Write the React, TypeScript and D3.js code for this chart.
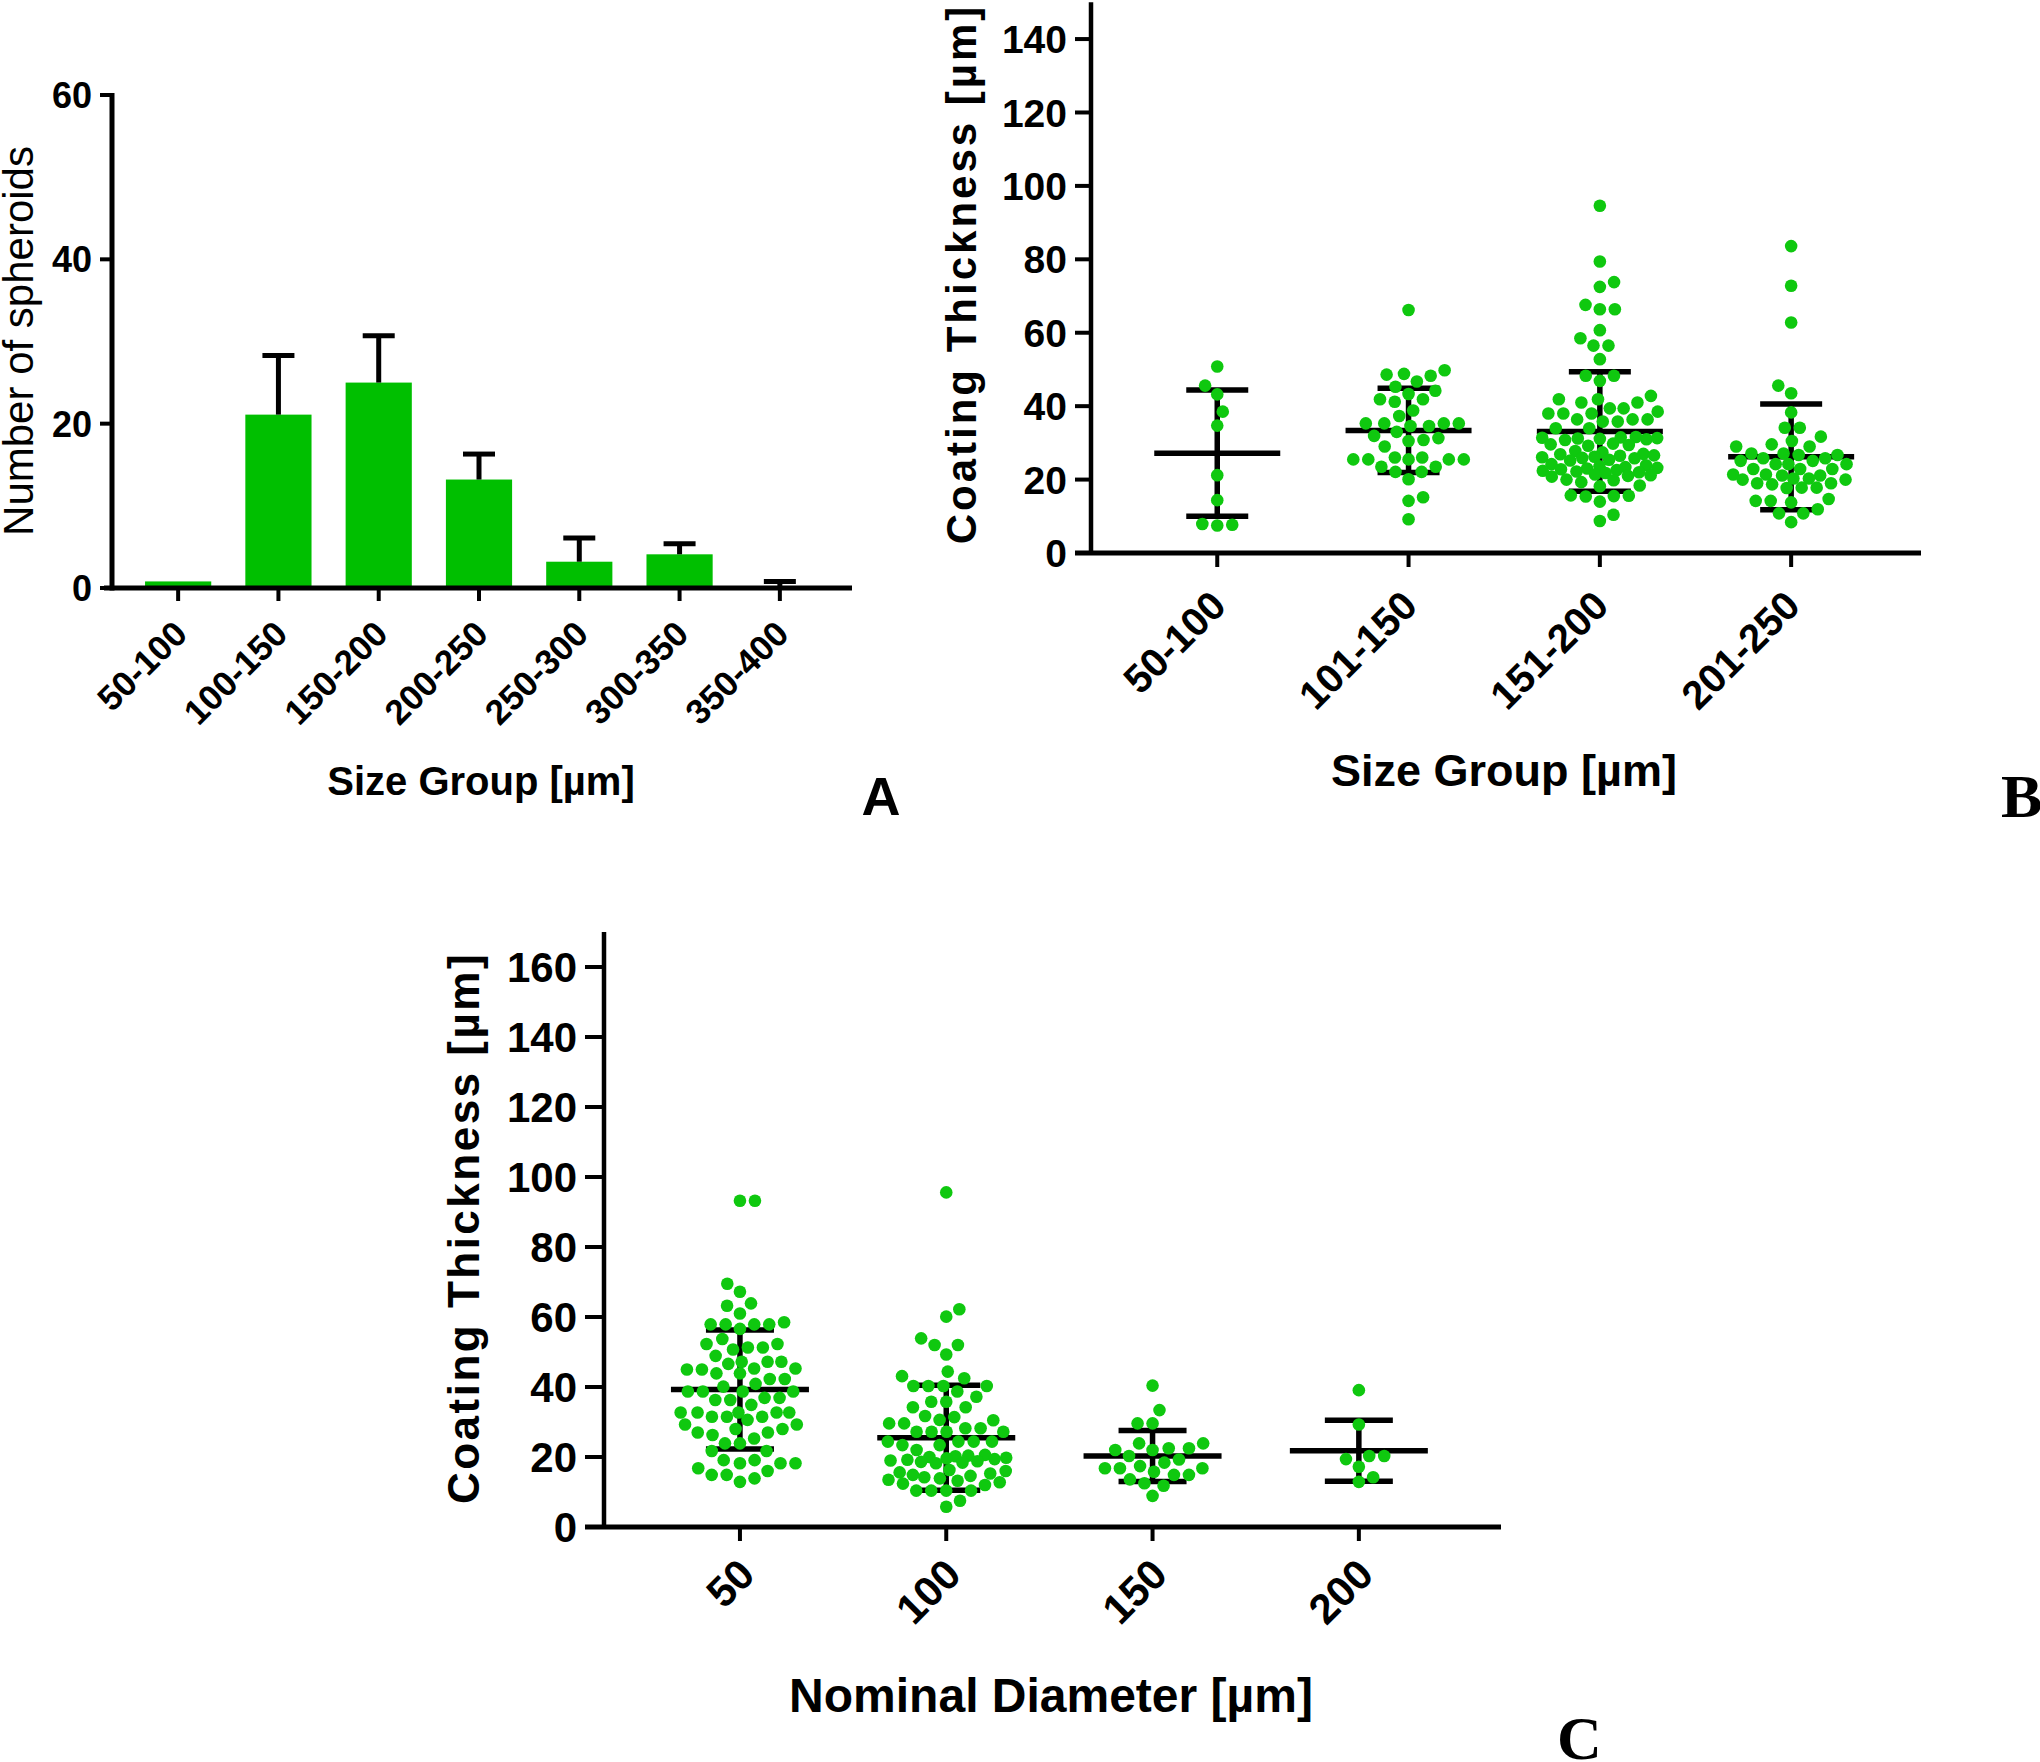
import React from 'react';
import * as d3 from 'd3';

// ---------- Panel A data ----------
const sizeGroupsA = ['50-100', '100-150', '150-200', '200-250', '250-300', '300-350', '350-400'];
const spheroidCounts = [0.8, 21.1, 25.0, 13.2, 3.2, 4.1, 0];
const spheroidSD = [0, 7.2, 5.7, 3.1, 2.9, 1.3, 0.8];
const yTicksA = [0, 20, 40, 60];

// ---------- Panel B data ----------
const sizeGroupsB = ['50-100', '101-150', '151-200', '201-250'];
const thicknessB1 = [50.8, 45.6, 43.2, 38.5, 34.7, 21.2, 14.4, 7.9, 7.5, 7.7];
const thicknessB2 = [66.2, 49.8, 48.8, 48.6, 48.3, 46.7, 45.3, 44.2, 43.3, 41.9, 41.9, 41.2, 38.8, 37.3, 35.3, 35.3, 35.3, 35.3, 34.6, 34.6, 33.0, 31.9, 31.3, 30.8, 30.5, 29.0, 26.0, 26.0, 25.5, 25.5, 25.5, 25.5, 25.5, 23.5, 23.5, 22.1, 22.1, 20.1, 15.2, 14.2, 9.2];
const thicknessB3 = [94.6, 79.4, 73.8, 72.5, 67.6, 66.4, 66.4, 60.7, 58.5, 56.5, 56.5, 52.8, 48.3, 48.3, 46.9,
  42.8, 41.9, 41.9, 41.0, 41.0, 39.4, 39.4, 38.5, 38.0, 38.0, 38.0, 36.4, 36.4, 36.4, 35.8, 35.8, 34.0, 34.0,
  31.6, 31.4, 31.2, 31.0, 30.8, 31.1, 31.3, 31.5, 29.8, 29.4, 29.2, 29.6, 27.8, 27.4,
  27.0, 26.9, 26.6, 26.5, 26.2, 26.1, 25.9, 25.8, 25.4, 25.2, 24.2, 23.9,
  23.6, 23.4, 23.2, 23.0, 22.8, 22.6, 22.4, 22.2, 22.0, 21.8, 21.4, 21.2, 21.0, 20.8,
  20.0, 19.8, 19.3, 18.4, 18.2, 15.7, 15.5, 15.4, 15.6, 14.0, 10.4, 8.7];
const thicknessB4 = [83.6, 72.8, 62.8, 45.6, 43.5, 38.3, 34.1, 34.1, 31.7, 30.5, 29.6, 29.0, 29.0, 27.1, 27.1, 26.7, 26.7, 25.8, 25.8, 25.1, 25.1, 24.2, 24.2, 24.2, 22.9, 22.9, 22.9, 21.4, 21.4, 21.1, 21.1, 20.3, 20.3, 20.0, 20.0, 19.0, 19.0, 18.7, 17.8, 17.8, 17.7, 14.7, 14.2, 14.2, 13.8, 11.9, 10.8, 10.8, 8.4];
const meanB = [27.2, 33.4, 33.1, 26.2];
const sdB = [17.2, 11.5, 16.3, 14.4];
const yTicksB = [0, 20, 40, 60, 80, 100, 120, 140];

// ---------- Panel C data ----------
const diametersC = ['50', '100', '150', '200'];
const thicknessC1 = [93.2, 93.2, 69.5, 67.2, 63.9, 63.2, 61.0, 58.5, 57.9, 57.9, 57.9, 57.9, 56.6, 53.7, 52.3, 52.3, 51.3, 51.3, 50.7, 48.9, 47.2, 47.2, 47.2, 46.6, 45.3, 45.3, 45.0, 45.0, 43.9, 43.9, 42.3, 42.3, 40.9, 40.1, 38.7, 38.7, 38.7, 38.7, 36.9, 36.9, 36.3, 36.3, 34.9, 32.7, 32.7, 32.7, 32.7, 32.7, 31.5, 31.5, 31.5, 30.6, 29.3, 29.3, 28.0, 28.0, 27.0, 27.0, 26.3, 25.3, 23.9, 23.9, 21.7, 21.7, 19.1, 19.1, 18.2, 18.2, 18.2, 16.8, 16.0, 14.9, 14.9, 13.9, 12.9];
const thicknessC2 = [95.6, 62.2, 60.1, 53.9, 52.0, 52.0, 49.3, 44.4, 43.1, 42.5, 40.3, 40.3, 40.3, 40.3, 38.7, 37.2, 35.8, 35.8, 34.2, 34.2, 31.7, 31.4, 30.6, 30.5, 29.6, 29.6, 28.2, 28.2, 27.2, 27.2, 27.2, 27.2, 24.4, 24.4, 24.4, 24.4, 23.4, 23.4, 22.0,
  20.6, 20.4, 20.2, 20.0, 19.8, 19.6, 19.4, 19.2, 19.0, 18.8, 18.6, 18.4, 18.2,
  16.3, 16.0, 15.6, 15.3, 14.9, 14.6, 14.2, 13.9, 13.5, 13.2, 12.8, 12.4, 12.0,
  10.4, 10.4, 10.4, 10.4, 7.5, 5.8];
const thicknessC3 = [40.4, 33.4, 29.6, 29.6, 23.9, 23.9, 22.5, 22.5, 22.0, 22.0, 20.3, 19.3, 18.4, 17.4, 16.8, 16.8, 16.8, 15.8, 14.9, 14.9, 13.6, 12.5, 11.8, 8.9];
const thicknessC4 = [39.1, 29.3, 20.3, 20.3, 19.4, 17.2, 14.2, 12.9];
const meanC = [39.3, 25.5, 20.3, 21.8];
const sdC = [17.0, 15.0, 7.3, 8.7];
const yTicksC = [0, 20, 40, 60, 80, 100, 120, 140, 160];

const groupsB = [thicknessB1, thicknessB2, thicknessB3, thicknessB4];
const groupsC = [thicknessC1, thicknessC2, thicknessC3, thicknessC4];

const BAR_GREEN = '#00bf00';
const DOT_GREEN = '#0fc80f';
const SANS = '"Liberation Sans", Arial, Helvetica, sans-serif';
const SERIF = '"Liberation Serif", "Times New Roman", serif';

// Beeswarm layout: values placed bottom-up, each at the free offset closest to the center.
function swarm(values: number[], yPix: (v: number) => number, D: number, maxHalf: number) {
  const order = values.map((v, i) => ({ v, i, py: yPix(v) })).sort((a, b) => b.py - a.py);
  const placed: { x: number; y: number }[] = [];
  const out: { x: number; y: number }[] = new Array(values.length);
  let lastSide = -1;
  for (const p of order) {
    let d = D;
    let best = 0;
    for (;;) {
      const cands = [0];
      for (const q of placed) {
        const dy = Math.abs(q.y - p.py);
        if (dy < d) {
          const dx = Math.sqrt(d * d - dy * dy);
          cands.push(q.x + dx, q.x - dx);
        }
      }
      const valid = cands.filter((c) => placed.every((q) => (q.x - c) ** 2 + (q.y - p.py) ** 2 >= d * d - 1e-3));
      valid.sort((a, b) => {
        const da = Math.abs(a) - Math.abs(b);
        if (Math.abs(da) > 1e-6) return da;
        return (Math.sign(b) === -lastSide ? 1 : 0) - (Math.sign(a) === -lastSide ? 1 : 0);
      });
      if (valid.length && Math.abs(valid[0]) <= maxHalf) {
        best = valid[0];
        break;
      }
      d *= 0.92;
      if (d < 2) { best = 0; break; }
    }
    if (Math.abs(best) > 1e-6) lastSide = Math.sign(best);
    placed.push({ x: best, y: p.py });
    out[p.i] = { x: best, y: p.py };
  }
  return out;
}

function PanelA() {
  const x = d3.scaleBand().domain(sizeGroupsA).range([128, 830]).paddingInner(0.34).paddingOuter(0.17);
  const y = d3.scaleLinear().domain([0, 60]).range([588, 95]);
  const bw = x.bandwidth();
  return (
    <g>
      {sizeGroupsA.map((g, i) => {
        const cx = (x(g) as number) + bw / 2;
        const v = spheroidCounts[i];
        const sd = spheroidSD[i];
        return (
          <g key={g}>
            {v > 0 && <rect x={x(g)} y={y(v)} width={bw} height={y(0) - y(v)} fill={BAR_GREEN} />}
            {sd > 0 && (
              <g stroke="#000" strokeWidth={5}>
                <line x1={cx} x2={cx} y1={y(v)} y2={y(v + sd)} />
                <line x1={cx - 16} x2={cx + 16} y1={y(v + sd)} y2={y(v + sd)} />
              </g>
            )}
            <line x1={cx} x2={cx} y1={y(0)} y2={y(0) + 13} stroke="#000" strokeWidth={4} />
            <text transform={`translate(${cx + 11},${y(0) + 48}) rotate(-45)`} textAnchor="end"
              fontFamily={SANS} fontWeight="bold" fontSize={35} fill="#000">{g}</text>
          </g>
        );
      })}
      <line x1={112} x2={112} y1={y(60) - 2} y2={y(0) + 2.5} stroke="#000" strokeWidth={5} />
      <line x1={104} x2={852} y1={y(0)} y2={y(0)} stroke="#000" strokeWidth={5} />
      {yTicksA.map((t) => (
        <g key={t}>
          <line x1={100} x2={112} y1={y(t)} y2={y(t)} stroke="#000" strokeWidth={4} />
          <text x={92} y={y(t)} dy="0.36em" textAnchor="end" fontFamily={SANS} fontWeight="bold" fontSize={36}>{t}</text>
        </g>
      ))}
      <text transform="translate(33,341) rotate(-90)" textAnchor="middle" fontFamily={SANS} fontSize={42}>Number of spheroids</text>
      <text x={481} y={795} textAnchor="middle" fontFamily={SANS} fontWeight="bold" fontSize={40}>Size Group [µm]</text>
      <text x={881} y={815} textAnchor="middle" fontFamily={SANS} fontWeight="bold" fontSize={54}>A</text>
    </g>
  );
}

function ScatterPanel(props: {
  cats: string[]; groups: number[][]; means: number[]; sds: number[]; ticks: number[];
  xRange: [number, number]; yDomainMax: number; yRange: [number, number];
  axisX: number; xAxisStart: number; xAxisEnd: number; tickLen: number;
  tickFont: number; xTickFont: number; xLabelDx: number; xLabelDy: number;
  meanHalf: number; capHalf: number; D: number; maxHalf: number; r: number;
}) {
  const p = props;
  const x = d3.scaleBand().domain(p.cats).range(p.xRange);
  const y = d3.scaleLinear().domain([0, p.yDomainMax]).range(p.yRange);
  const bw = x.bandwidth();
  const y0 = y(0);
  return (
    <g>
      <line x1={p.axisX} x2={p.axisX} y1={y(p.yDomainMax)} y2={y0 + 2} stroke="#000" strokeWidth={4.5} />
      <line x1={p.xAxisStart} x2={p.xAxisEnd} y1={y0} y2={y0} stroke="#000" strokeWidth={5} />
      {p.ticks.map((t) => (
        <g key={t}>
          <line x1={p.axisX - p.tickLen} x2={p.axisX} y1={y(t)} y2={y(t)} stroke="#000" strokeWidth={4} />
          <text x={p.axisX - p.tickLen - 8} y={y(t)} dy="0.36em" textAnchor="end" fontFamily={SANS}
            fontWeight="bold" fontSize={p.tickFont}>{t}</text>
        </g>
      ))}
      {p.cats.map((c, i) => {
        const cx = (x(c) as number) + bw / 2;
        const m = p.means[i];
        const s = p.sds[i];
        const pts = swarm(p.groups[i], (v) => y(v), p.D, p.maxHalf);
        return (
          <g key={c}>
            <line x1={cx} x2={cx} y1={y0} y2={y0 + 14} stroke="#000" strokeWidth={4} />
            <text transform={`translate(${cx + p.xLabelDx},${y0 + p.xLabelDy}) rotate(-45)`} textAnchor="end"
              fontFamily={SANS} fontWeight="bold" fontSize={p.xTickFont}>{c}</text>
            <g stroke="#000" strokeWidth={5.5}>
              <line x1={cx} x2={cx} y1={y(m - s)} y2={y(m + s)} />
              <line x1={cx - p.capHalf} x2={cx + p.capHalf} y1={y(m + s)} y2={y(m + s)} />
              <line x1={cx - p.capHalf} x2={cx + p.capHalf} y1={y(m - s)} y2={y(m - s)} />
              <line x1={cx - p.meanHalf} x2={cx + p.meanHalf} y1={y(m)} y2={y(m)} />
            </g>
            {pts.map((pt, k) => (
              <circle key={k} cx={cx + pt.x} cy={pt.y} r={p.r} fill={DOT_GREEN} />
            ))}
          </g>
        );
      })}
    </g>
  );
}

export default function App() {
  return (
    <svg width={2040} height={1762} viewBox="0 0 2040 1762"
      style={{ position: 'absolute', left: 0, top: 0, background: '#fff' }}>
      <rect x={0} y={0} width={2040} height={1762} fill="#fff" />
      <PanelA />
      <ScatterPanel cats={sizeGroupsB} groups={groupsB} means={meanB} sds={sdB} ticks={yTicksB}
        xRange={[1121.6, 1886.8]} yDomainMax={150} yRange={[553, 2.35]}
        axisX={1091} xAxisStart={1075} xAxisEnd={1921} tickLen={16}
        tickFont={39} xTickFont={40} xLabelDx={11} xLabelDy={55}
        meanHalf={63} capHalf={31} D={15} maxHalf={58} r={6.3} />
      <text transform="translate(976,274) rotate(-90)" textAnchor="middle" fontFamily={SANS} fontWeight="bold"
        fontSize={42} letterSpacing={3}>Coating Thickness [µm]</text>
      <text x={1504} y={786} textAnchor="middle" fontFamily={SANS} fontWeight="bold" fontSize={45}>Size Group [µm]</text>
      <text x={2001} y={817} fontFamily={SERIF} fontWeight="bold" fontSize={62}>B</text>

      <ScatterPanel cats={diametersC} groups={groupsC} means={meanC} sds={sdC} ticks={yTicksC}
        xRange={[636.8, 1462]} yDomainMax={170} yRange={[1527, 932]}
        axisX={604} xAxisStart={585} xAxisEnd={1501} tickLen={19}
        tickFont={42} xTickFont={42} xLabelDx={17} xLabelDy={50}
        meanHalf={69} capHalf={34} D={15} maxHalf={60} r={6.3} />
      <text transform="translate(479,1228) rotate(-90)" textAnchor="middle" fontFamily={SANS} fontWeight="bold"
        fontSize={44} letterSpacing={2.5}>Coating Thickness [µm]</text>
      <text x={1051} y={1712} textAnchor="middle" fontFamily={SANS} fontWeight="bold" fontSize={48}>Nominal Diameter [µm]</text>
      <text x={1557} y={1759} fontFamily={SERIF} fontWeight="bold" fontSize={62}>C</text>
    </svg>
  );
}
